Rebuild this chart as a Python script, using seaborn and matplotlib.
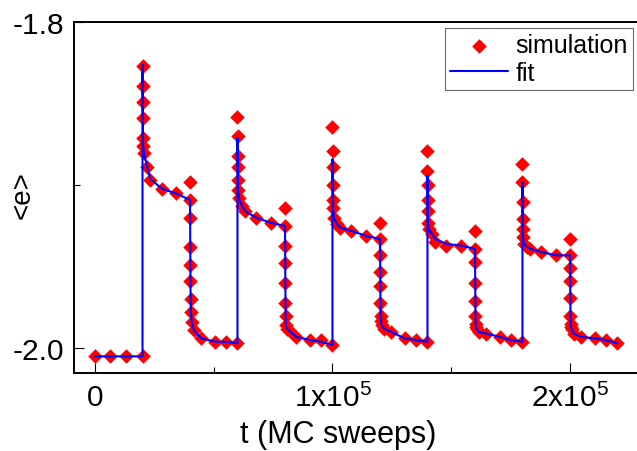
import numpy as np
import pandas as pd
import matplotlib.pyplot as plt
import seaborn as sns
from matplotlib.ticker import FixedLocator

# plotting setup
sns.set_style("white")
plt.rcParams['font.family'] = ['Liberation Sans', 'DejaVu Sans']
plt.rcParams['mathtext.fontset'] = 'custom'
plt.rcParams['mathtext.rm'] = 'Liberation Sans'
plt.rcParams['text.color'] = 'black'
plt.rcParams['axes.labelcolor'] = 'black'

# ---- data ----
# field switched on / off every 2x10^4 sweeps
on_start = [20000, 60000, 100000, 140000, 180000]
off_start = [40000, 80000, 120000, 160000, 200000]

# initial points (before first switch)
t_init = [0, 6500, 13000, 20000]
e_init = [-2.005, -2.005, -2.005, -2.005]

# sampling offsets inside each half period
on_dt = [0, 10, 30, 60, 120, 250, 600, 2000, 3300, 8000, 14000, 20000]
off_dt = [0, 10, 30, 60, 120, 250, 400, 700, 1600, 4700, 10500, 15000, 20000]

# simulation, field on
sim_on_1 = [-1.827, -1.839, -1.849, -1.859, -1.871, -1.876, -1.880, -1.889, -1.897, -1.902, -1.905, -1.909]
sim_on_2 = [-1.858, -1.870, -1.882, -1.889, -1.897, -1.903, -1.908, -1.913, -1.916, -1.920, -1.923, -1.925]
sim_on_3 = [-1.864, -1.879, -1.889, -1.900, -1.909, -1.914, -1.920, -1.924, -1.926, -1.928, -1.931, -1.933]
sim_on_4 = [-1.879, -1.891, -1.900, -1.909, -1.916, -1.923, -1.927, -1.930, -1.935, -1.937, -1.937, -1.939]
sim_on_5 = [-1.887, -1.898, -1.910, -1.921, -1.927, -1.932, -1.936, -1.938, -1.939, -1.941, -1.943, -1.943]

# simulation, field off
sim_off_1 = [-1.898, -1.920, -1.938, -1.949, -1.959, -1.970, -1.978, -1.984, -1.989, -1.994, -1.996, -1.996, -1.997]
sim_off_2 = [-1.914, -1.937, -1.948, -1.960, -1.972, -1.980, -1.986, -1.988, -1.989, -1.993, -1.995, -1.995, -1.998]
sim_off_3 = [-1.923, -1.943, -1.953, -1.962, -1.972, -1.980, -1.983, -1.986, -1.988, -1.990, -1.994, -1.995, -1.996]
sim_off_4 = [-1.928, -1.947, -1.960, -1.971, -1.980, -1.985, -1.987, -1.988, -1.990, -1.991, -1.993, -1.995, -1.996]
sim_off_5 = [-1.933, -1.951, -1.959, -1.969, -1.980, -1.985, -1.987, -1.988, -1.991, -1.993, -1.994, -1.995, -1.997]

# fit curve knots
fit_init_t = [0, 20000]
fit_init_e = [-2.005, -2.005]
fit_on_dt = [0, 250, 600, 2000, 3300, 8000, 14000, 20000]
fit_on_1 = [-1.826, -1.876, -1.880, -1.889, -1.896, -1.902, -1.905, -1.909]
fit_on_2 = [-1.871, -1.903, -1.908, -1.913, -1.916, -1.920, -1.923, -1.925]
fit_on_3 = [-1.884, -1.914, -1.920, -1.924, -1.926, -1.928, -1.931, -1.933]
fit_on_4 = [-1.894, -1.923, -1.927, -1.930, -1.933, -1.936, -1.937, -1.939]
fit_on_5 = [-1.898, -1.932, -1.936, -1.938, -1.939, -1.941, -1.943, -1.943]

fit_off_dt = [0, 250, 400, 700, 1600, 4700, 10500, 15000, 20000]
fit_off_1 = [-1.909, -1.970, -1.978, -1.984, -1.989, -1.994, -1.996, -1.996, -1.997]
fit_off_2 = [-1.925, -1.980, -1.986, -1.988, -1.989, -1.993, -1.995, -1.996, -1.998]
fit_off_3 = [-1.933, -1.980, -1.983, -1.986, -1.988, -1.990, -1.994, -1.995, -1.996]
fit_off_4 = [-1.939, -1.985, -1.987, -1.988, -1.990, -1.991, -1.993, -1.995, -1.996]
fit_off_5 = [-1.943, -1.985, -1.987, -1.988, -1.991, -1.993, -1.994, -1.995, -1.997]

sim_on = [sim_on_1, sim_on_2, sim_on_3, sim_on_4, sim_on_5]
sim_off = [sim_off_1, sim_off_2, sim_off_3, sim_off_4, sim_off_5]
fit_on = [fit_on_1, fit_on_2, fit_on_3, fit_on_4, fit_on_5]
fit_off = [fit_off_1, fit_off_2, fit_off_3, fit_off_4, fit_off_5]

# ---- assemble tables ----
sim_t = list(t_init)
sim_e = list(e_init)
fit_t = list(fit_init_t)
fit_e = list(fit_init_e)
for k in range(5):
    sim_t += [on_start[k] + d for d in on_dt] + [off_start[k] + d for d in off_dt]
    sim_e += sim_on[k] + sim_off[k]
    fit_t += [on_start[k] + d for d in fit_on_dt] + [off_start[k] + d for d in fit_off_dt]
    fit_e += fit_on[k] + fit_off[k]

sim = pd.DataFrame({'t': sim_t, 'e': sim_e})
fit = pd.DataFrame({'t': fit_t, 'e': fit_e})

# ---- plot ----
fig = plt.figure(figsize=(6.37, 4.52), dpi=100)
ax = fig.add_axes([0.1162, 0.1726, 0.89, 0.7759])

sns.lineplot(x='t', y='e', data=fit, ax=ax, color='#0000FF', lw=1.5,
             estimator=None, sort=False, label='fit', zorder=3)
sns.scatterplot(x='t', y='e', data=sim, ax=ax, color='#FF0000', marker='D',
                s=55, linewidth=0, label='simulation', zorder=2)

ax.set_xlim(-8840, 229900)
ax.set_ylim(-2.0152, -1.8)

ax.xaxis.set_major_locator(FixedLocator([0, 100000, 200000]))
ax.xaxis.set_minor_locator(FixedLocator([50000, 150000]))
ax.set_xticklabels(['0', r'$\mathregular{1x10^5}$', r'$\mathregular{2x10^5}$'])
ax.yaxis.set_major_locator(FixedLocator([-2.0, -1.8]))
ax.yaxis.set_minor_locator(FixedLocator([-1.9]))
ax.set_yticklabels(['-2.0', '-1.8'])

ax.tick_params(which='both', direction='in', bottom=True, left=True,
               top=False, right=False, colors='black', labelsize=21.5, width=0.8)
ax.tick_params(which='major', length=7, pad=7)
ax.tick_params(which='minor', length=4.3)

for side in ['left', 'bottom', 'top']:
    ax.spines[side].set_color('black')
    ax.spines[side].set_linewidth(1.4)
ax.spines['right'].set_visible(False)

ax.set_xlabel('t (MC sweeps)', fontsize=22, color='black')
ax.xaxis.set_label_coords(0.4656, -0.13)
ax.set_ylabel('<e>', fontsize=20, color='black')
ax.yaxis.set_label_coords(-0.068, 0.51)

handles, labels = ax.get_legend_handles_labels()
leg = ax.legend([handles[1], handles[0]], [labels[1], labels[0]],
                loc='upper right', bbox_to_anchor=(632.7 / 637, 1 - 29.3 / 452),
                bbox_transform=fig.transFigure, borderaxespad=0, fontsize=18,
                frameon=True, fancybox=False, handlelength=2.3, handletextpad=0.3,
                labelspacing=0.15, borderpad=0.2, markerscale=1.0, labelcolor='black')
leg.get_frame().set_edgecolor('#444444')
leg.get_frame().set_linewidth(0.8)

fig.savefig('out.png', dpi=100)
